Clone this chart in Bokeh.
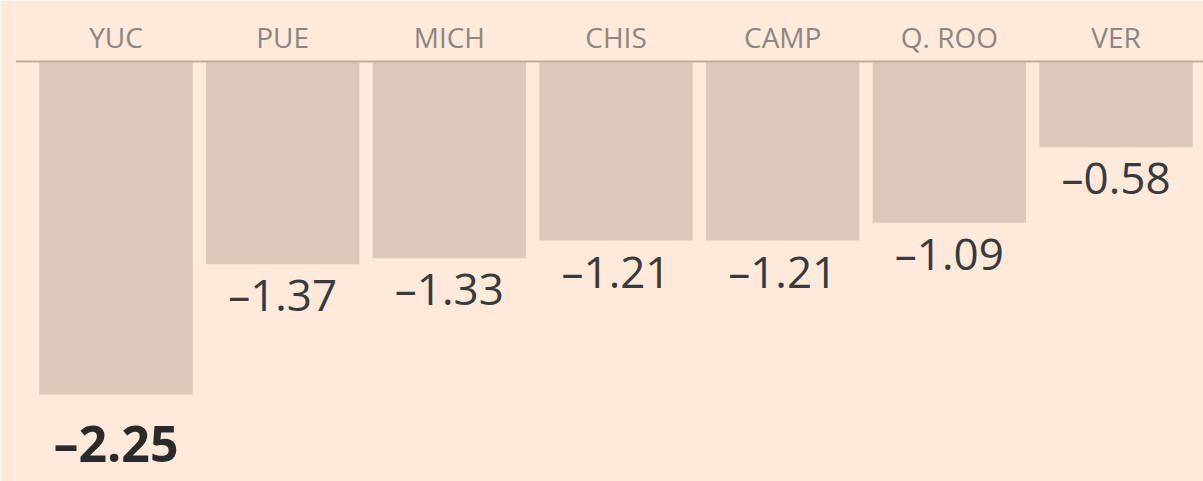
from bokeh.plotting import figure
from bokeh.models import Range1d, Span, ColumnDataSource
from bokeh.core.properties import value
from bokeh.embed import file_html
from bokeh.resources import INLINE

states = ["YUC", "PUE", "MICH", "CHIS", "CAMP", "Q. ROO", "VER"]
values = [-2.25, -1.37, -1.33, -1.21, -1.21, -1.09, -0.58]
value_labels = ["\u20132.25", "\u20131.37", "\u20131.33", "\u20131.21", "\u20131.21", "\u20131.09", "\u20130.58"]

BG = "#FEE9DB"
BAR = "#DBC8BA"

W, H = 1203, 481
LEFT = 15
slot = 166.67
ppu = 148.0
zero_px = 61

xs = list(range(len(states)))
x_start = -100.5 / slot
x_end = x_start + (W - LEFT) / slot
y_end = zero_px / ppu
y_start = y_end - H / ppu

p = figure(width=W, height=H, x_range=Range1d(x_start, x_end), y_range=Range1d(y_start, y_end),
           output_backend="svg", toolbar_location=None, min_border_left=LEFT, min_border_right=0,
           min_border_top=0, min_border_bottom=0)
p.axis.visible = False
p.grid.visible = False
p.outline_line_color = None
p.background_fill_color = BG
p.border_fill_color = BG

src = ColumnDataSource(dict(x=xs, top=[0] * len(xs), bottom=values, state=states, lab=value_labels))
p.vbar(x="x", top="top", bottom="bottom", width=0.92, fill_color=BAR, line_color=None, source=src)

p.add_layout(Span(location=0, dimension="width", line_color="#BFAB9E", line_width=2))

p.text(x="x", y="top", text="state", source=src, text_align="center", text_baseline="alphabetic",
       y_offset=-25, text_font=value("Open Sans"), text_font_size="28px", text_color="#8C8682")

reg = ColumnDataSource(dict(x=xs[1:], y=values[1:], lab=value_labels[1:]))
p.text(x="x", y="y", text="lab", source=reg, text_align="center", text_baseline="alphabetic",
       y_offset=30, text_font=value("Open Sans"), text_font_size="44px", text_color="#3A3A3A")

bold = ColumnDataSource(dict(x=xs[:1], y=values[:1], lab=value_labels[:1]))
p.text(x="x", y="y", text="lab", source=bold, text_align="center", text_baseline="alphabetic",
       y_offset=48, text_font=value("Open Sans"), text_font_style="bold", text_font_size="50px",
       text_color="#2A2A2A")

open("out.html", "w").write(file_html(p, INLINE))
